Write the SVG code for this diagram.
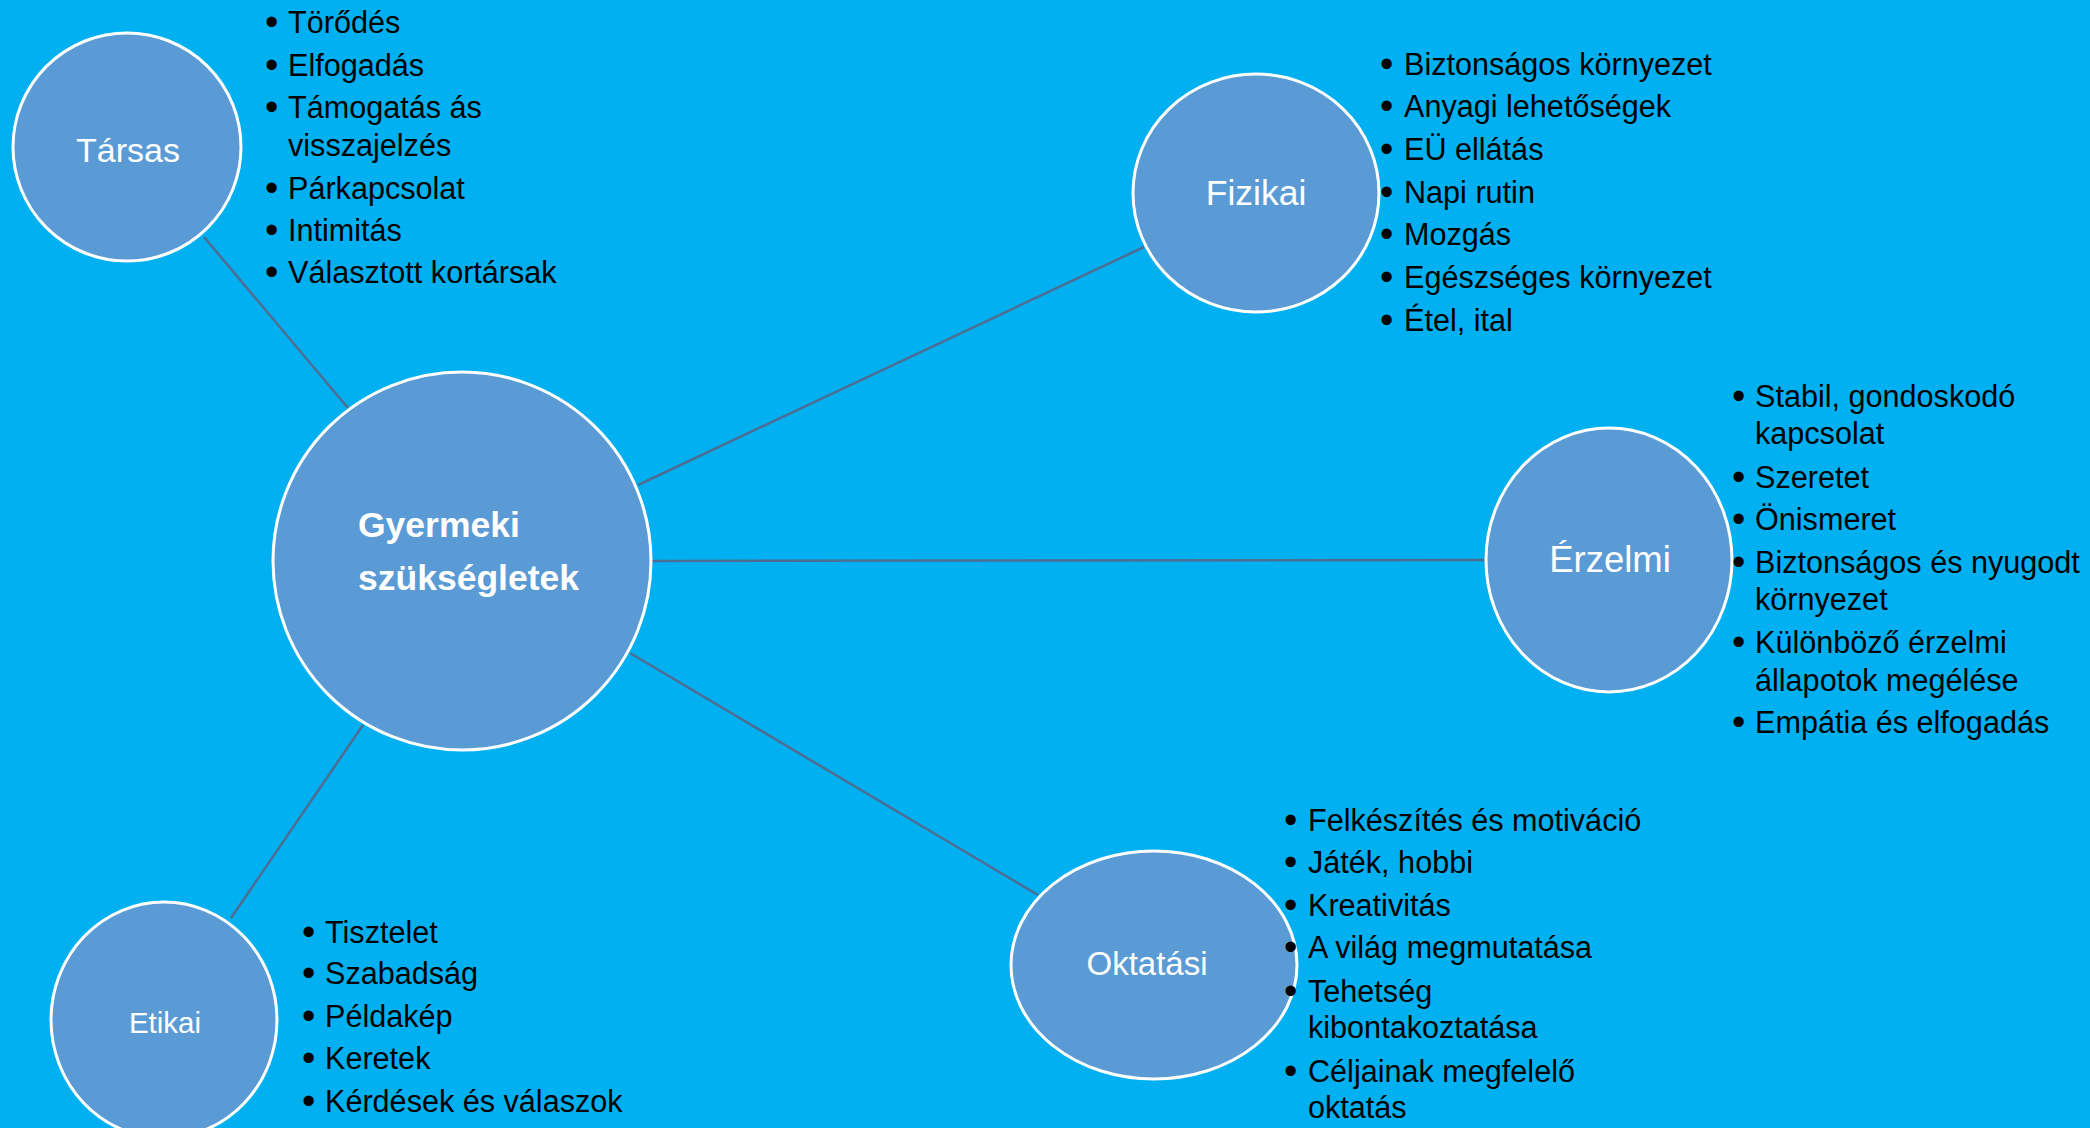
<svg xmlns="http://www.w3.org/2000/svg" width="2090" height="1128" viewBox="0 0 2090 1128">
<style>
.bg{fill:#00B0F0}
.node ellipse{fill:#5B9BD5;stroke:#FFFFFF;stroke-width:3}
.conn line{stroke:#4E6D92;stroke-width:2.5}
.lbl{font-family:"Liberation Sans",Arial,sans-serif;fill:#FFFFFF;text-anchor:middle}
.ctr{font-family:"Liberation Sans",Arial,sans-serif;fill:#FFFFFF;font-weight:bold;font-size:35.5px}
.it{font-family:"Liberation Sans",Arial,sans-serif;fill:#000000;font-size:30.6px}
.b{font-size:38px}
</style>
<rect class="bg" x="0" y="0" width="2090" height="1128"/>
<g id="connectors" class="conn">
<line x1="204" y1="237" x2="348" y2="408"/>
<line x1="638" y1="485" x2="1144" y2="247"/>
<line x1="652" y1="561" x2="1486" y2="560"/>
<line x1="630" y1="653" x2="1038" y2="895"/>
<line x1="363" y1="725" x2="231" y2="918"/>
</g>
<g id="center" class="node">
<ellipse cx="462" cy="561" rx="189" ry="189"/>
<text class="ctr" x="358" y="537">Gyermeki</text>
<text class="ctr" x="358" y="590">szükségletek</text>
</g>
<g id="tarsas" class="node">
<ellipse cx="127" cy="147" rx="114" ry="114"/>
<text class="lbl" x="128" y="162" font-size="34">Társas</text>
<g class="it">
<text class="b" x="265" y="35">•</text><text x="288" y="33">Törődés</text>
<text class="b" x="265" y="78">•</text><text x="288" y="76">Elfogadás</text>
<text class="b" x="265" y="120">•</text><text x="288" y="118">Támogatás ás</text>
<text x="288" y="156">visszajelzés</text>
<text class="b" x="265" y="201">•</text><text x="288" y="199">Párkapcsolat</text>
<text class="b" x="265" y="243">•</text><text x="288" y="241">Intimitás</text>
<text class="b" x="265" y="285">•</text><text x="288" y="283">Választott kortársak</text>
</g>
</g>
<g id="fizikai" class="node">
<ellipse cx="1256" cy="193" rx="123" ry="119"/>
<text class="lbl" x="1256" y="205" font-size="35.5">Fizikai</text>
<g class="it">
<text class="b" x="1380" y="77">•</text><text x="1404" y="75">Biztonságos környezet</text>
<text class="b" x="1380" y="119">•</text><text x="1404" y="117">Anyagi lehetőségek</text>
<text class="b" x="1380" y="162">•</text><text x="1404" y="160">EÜ ellátás</text>
<text class="b" x="1380" y="205">•</text><text x="1404" y="203">Napi rutin</text>
<text class="b" x="1380" y="247">•</text><text x="1404" y="245">Mozgás</text>
<text class="b" x="1380" y="290">•</text><text x="1404" y="288">Egészséges környezet</text>
<text class="b" x="1380" y="333">•</text><text x="1404" y="331">Étel, ital</text>
</g>
</g>
<g id="erzelmi" class="node">
<ellipse cx="1609" cy="560" rx="123" ry="132"/>
<text class="lbl" x="1610" y="572" font-size="36.5">Érzelmi</text>
<g class="it">
<text class="b" x="1732" y="409">•</text><text x="1755" y="407">Stabil, gondoskodó</text>
<text x="1755" y="444">kapcsolat</text>
<text class="b" x="1732" y="490">•</text><text x="1755" y="488">Szeretet</text>
<text class="b" x="1732" y="532">•</text><text x="1755" y="530">Önismeret</text>
<text class="b" x="1732" y="575">•</text><text x="1755" y="573">Biztonságos és nyugodt</text>
<text x="1755" y="610">környezet</text>
<text class="b" x="1732" y="655">•</text><text x="1755" y="653">Különböző érzelmi</text>
<text x="1755" y="691">állapotok megélése</text>
<text class="b" x="1732" y="735">•</text><text x="1755" y="733">Empátia és elfogadás</text>
</g>
</g>
<g id="oktatasi" class="node">
<ellipse cx="1154" cy="965" rx="143" ry="114"/>
<text class="lbl" x="1147" y="975" font-size="33">Oktatási</text>
<g class="it">
<text class="b" x="1284" y="833">•</text><text x="1308" y="831">Felkészítés és motiváció</text>
<text class="b" x="1284" y="875">•</text><text x="1308" y="873">Játék, hobbi</text>
<text class="b" x="1284" y="918">•</text><text x="1308" y="916">Kreativitás</text>
<text class="b" x="1284" y="960">•</text><text x="1308" y="958">A világ megmutatása</text>
<text class="b" x="1284" y="1004">•</text><text x="1308" y="1002">Tehetség</text>
<text x="1308" y="1038">kibontakoztatása</text>
<text class="b" x="1284" y="1084">•</text><text x="1308" y="1082">Céljainak megfelelő</text>
<text x="1308" y="1118">oktatás</text>
</g>
</g>
<g id="etikai" class="node">
<ellipse cx="164" cy="1020" rx="113" ry="118"/>
<text class="lbl" x="165" y="1033" font-size="29.5">Etikai</text>
<g class="it">
<text class="b" x="302" y="945">•</text><text x="325" y="943">Tisztelet</text>
<text class="b" x="302" y="986">•</text><text x="325" y="984">Szabadság</text>
<text class="b" x="302" y="1029">•</text><text x="325" y="1027">Példakép</text>
<text class="b" x="302" y="1071">•</text><text x="325" y="1069">Keretek</text>
<text class="b" x="302" y="1114">•</text><text x="325" y="1112">Kérdések és válaszok</text>
</g>
</g>
</svg>
